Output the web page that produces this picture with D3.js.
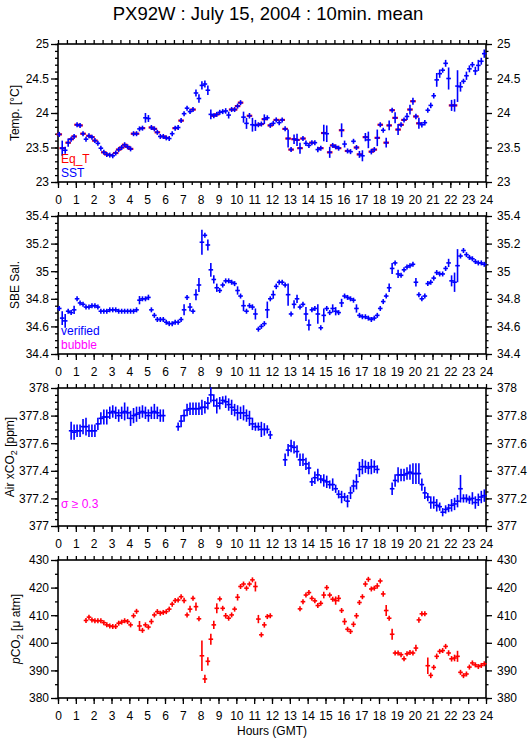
<!DOCTYPE html>
<html>
<head>
<meta charset="utf-8">
<script src="https://cdn.jsdelivr.net/npm/d3@7"></script>
<style>
  body { margin: 0; background: #fff; }
  svg { display: block; font-family: "Liberation Sans", Arial, Helvetica, sans-serif; }
</style>
</head>
<body>
<svg id="chart" width="529" height="739"></svg>
<script>
// 10-minute means, one slot per 10 minutes (144 slots), null = no data
var slotStart = 0.07
var slotStep = 1 / 6

var sstVal = [23.69,23.49,23.46,23.57,23.62,23.66,23.83,23.82,23.70,23.62,
  23.67,23.65,23.60,23.56,23.49,23.43,23.40,23.39,23.38,23.42,
  23.47,23.50,23.54,23.51,23.48,23.70,23.70,23.77,23.78,23.93,
  23.92,23.79,23.77,23.72,23.66,23.66,23.64,23.63,23.70,23.78,
  23.79,23.89,23.99,24.07,24.02,24.05,24.29,24.21,24.40,24.42,
  24.33,23.98,23.96,23.98,24.01,24.02,24.03,23.97,24.05,24.05,
  24.10,24.15,23.94,23.85,23.96,23.83,23.82,23.83,23.84,23.91,
  23.93,23.82,23.85,23.90,23.86,23.90,23.77,23.63,23.47,23.62,
  23.61,23.49,23.63,23.56,23.53,23.57,23.57,23.47,23.49,23.71,
  23.70,23.43,23.53,23.51,23.49,23.75,23.55,23.45,23.44,23.59,
  23.50,23.40,23.38,23.65,23.61,23.44,23.47,23.64,23.83,23.75,
  23.57,23.82,24.04,23.93,23.76,23.83,23.90,23.95,24.05,24.17,
  23.95,23.85,23.83,23.86,24.04,24.11,24.25,24.48,24.57,24.62,
  24.72,24.50,24.11,24.11,24.39,24.38,24.46,24.54,24.64,24.70,
  24.61,24.69,24.75,24.86]
var sstSd = [.02,.11,.05,.06,.02,.03,.02,.02,.02,.02,
  .02,.02,.02,.02,.02,.02,.02,.02,.02,.02,
  .02,.02,.02,.02,.03,.03,.03,.03,.02,.07,
  .05,.02,.02,.02,.03,.02,.02,.03,.02,.02,
  .02,.02,.02,.02,.03,.03,.05,.06,.06,.05,
  .07,.07,.03,.02,.02,.02,.04,.05,.03,.02,
  .02,.02,.08,.08,.04,.10,.08,.02,.03,.07,
  .03,.02,.03,.02,.03,.02,.03,.13,.03,.07,
  .09,.08,.02,.04,.02,.02,.02,.04,.03,.12,
  .12,.08,.03,.02,.03,.10,.05,.02,.02,.02,
  .03,.05,.08,.06,.12,.04,.03,.12,.03,.02,
  .07,.07,.02,.08,.08,.02,.02,.05,.07,.05,
  .04,.08,.04,.04,.02,.04,.04,.10,.06,.03,
  .05,.16,.08,.09,.23,.07,.03,.06,.05,.04,
  .06,.08,.05,.06]
var eqtVal = [23.69,23.49,null,23.57,23.62,23.66,23.83,23.82,23.70,null,
  23.67,23.65,23.60,null,null,23.43,23.40,23.39,null,23.42,
  23.47,23.50,23.54,23.51,23.48,23.70,23.70,null,23.78,null,
  null,23.79,23.77,23.72,null,23.66,23.64,null,null,23.78,
  null,23.89,null,null,null,24.05,null,null,null,null,
  null,null,23.96,23.98,null,null,null,null,24.05,24.05,
  24.10,24.15,null,null,23.96,null,null,23.83,23.84,23.91,
  null,23.82,null,23.90,null,23.90,23.77,23.63,23.47,23.62,
  23.61,23.49,23.63,null,null,23.57,null,null,23.49,23.71,
  null,23.43,23.53,23.51,23.49,23.75,null,23.45,null,null,
  23.50,23.40,null,23.65,null,23.44,23.47,23.64,23.83,null,
  23.57,23.82,24.04,23.93,23.76,23.83,23.90,null,24.05,24.17,
  23.95,23.85,null,null,null,null,null,null,null,null,
  null,null,24.11,24.11,null,null,null,null,null,null,
  null,null,null,null]

var salVal = [34.73,34.66,34.64,34.71,34.70,34.72,34.80,34.77,34.76,34.74,
  34.74,34.75,34.75,34.74,34.71,34.71,34.71,34.72,34.72,34.72,
  34.71,34.71,34.71,34.71,34.71,34.71,34.72,34.79,34.80,34.80,
  34.81,34.72,34.68,34.65,34.65,34.65,34.63,34.62,34.62,34.63,
  34.63,34.65,34.72,34.81,34.74,34.71,34.83,34.90,35.21,35.26,
  35.19,35.01,34.94,34.88,34.86,34.90,34.93,34.93,34.92,34.91,
  34.86,34.82,34.75,34.71,34.75,34.74,34.69,34.58,34.60,34.62,
  34.72,34.80,34.83,34.89,34.92,34.92,34.90,34.83,34.69,34.76,
  34.80,34.74,34.76,34.69,34.61,34.72,34.73,34.69,34.59,34.68,
  34.73,34.70,34.73,34.71,34.70,34.77,34.82,34.81,34.80,34.79,
  34.73,34.68,34.67,34.67,34.66,34.65,34.66,34.68,34.73,34.78,
  34.82,34.88,35.02,35.06,34.98,34.97,35.01,35.03,35.04,35.05,
  34.92,34.83,34.80,34.82,34.91,34.92,34.95,34.99,34.98,34.98,
  35.02,35.06,34.93,34.92,35.04,35.11,35.15,35.12,35.10,35.09,
  35.07,35.06,35.06,35.05]
var salSd = [.01,.05,.05,.01,.01,.03,.01,.01,.01,.01,
  .01,.01,.01,.01,.01,.01,.01,.01,.01,.01,
  .01,.01,.01,.01,.01,.01,.01,.03,.01,.01,
  .02,.01,.01,.01,.01,.01,.01,.01,.01,.01,
  .01,.01,.04,.01,.03,.01,.04,.05,.09,.01,
  .04,.05,.03,.03,.01,.01,.01,.01,.01,.01,
  .03,.01,.04,.01,.01,.02,.04,.01,.01,.01,
  .06,.01,.03,.02,.01,.01,.01,.08,.01,.03,
  .03,.01,.01,.05,.04,.01,.01,.07,.01,.05,
  .01,.01,.03,.03,.01,.03,.01,.01,.01,.01,
  .03,.01,.01,.01,.01,.01,.01,.01,.01,.01,
  .01,.03,.04,.01,.03,.01,.01,.01,.01,.01,
  .03,.01,.01,.01,.01,.01,.01,.01,.01,.01,
  .01,.03,.04,.07,.12,.01,.01,.01,.01,.01,
  .01,.01,.01,.01]

var airVal = [null,null,null,null,377.69,377.68,377.69,377.69,377.72,377.72,
  377.69,377.69,377.69,377.74,377.78,377.79,377.79,377.82,377.83,377.82,
  377.80,377.82,377.83,377.82,377.78,377.80,377.81,377.82,377.83,377.82,
  377.80,377.82,377.83,377.82,377.80,377.80,null,null,null,null,
  377.72,377.76,377.80,377.84,377.85,377.85,377.85,377.85,377.86,377.86,
  377.89,377.95,377.91,377.87,377.89,377.91,377.90,377.88,377.86,377.84,
  377.82,377.82,377.82,377.80,377.78,377.74,377.72,377.72,377.70,377.70,
  377.70,377.66,null,null,null,null,377.48,377.55,377.58,377.57,
  377.54,377.48,377.48,377.45,377.42,377.32,377.35,377.37,377.34,377.33,
  377.32,377.30,377.30,377.27,377.23,377.21,377.21,377.18,377.24,377.29,
  377.32,377.41,377.43,377.43,377.42,377.43,377.43,377.41,null,null,
  null,null,377.27,377.33,377.37,377.37,377.37,377.38,377.39,377.38,
  377.38,377.38,377.30,377.24,377.21,377.17,377.17,377.15,377.14,377.10,
  377.12,377.13,377.15,377.16,377.18,377.27,377.20,377.20,377.19,377.20,
  377.17,377.19,377.21,377.22]
var airSd = [0,0,0,0,.065,.055,.045,.045,.055,.065,
  .045,.045,.045,.045,.045,.055,.055,.045,.045,.045,
  .045,.045,.065,.045,.055,.055,.055,.045,.045,.045,
  .045,.045,.055,.045,.045,.045,0,0,0,0,
  .03,.045,.045,.045,.045,.045,.045,.045,.055,.045,
  .045,.055,.045,.055,.045,.03,.045,.045,.055,.045,
  .055,.045,.055,.045,.055,.045,.03,.03,.055,.045,
  .03,.03,0,0,0,0,.045,.045,.045,.045,
  .045,.045,.045,.045,.045,.03,.045,.045,.03,.045,
  .045,.03,.045,.03,.03,.045,.03,.045,.045,.045,
  .055,.055,.055,.045,.045,.055,.045,.03,0,0,
  0,0,.045,.045,.055,.045,.045,.045,.055,.075,
  .075,.075,.045,.045,.03,.045,.045,.045,.03,.03,
  .03,.03,.045,.045,.045,.1,.03,.03,.03,.045,
  .045,.045,.045,.045]

var pco2Val = [null,null,null,null,null,null,null,null,null,408.1,
  409.3,408.3,408.0,408.0,408.0,407.3,406.5,406.1,405.9,405.9,
  407.1,407.5,408.0,407.7,406.5,409.8,411.4,406.1,404.5,406.5,
  405.7,407.7,410.1,411.3,410.7,411.0,411.3,412.2,414.0,415.3,
  415.5,416.7,415.3,410.1,412.2,416.1,413.1,408.7,395.3,386.9,
  393.3,401.3,406.5,412.5,415.9,412.5,409.8,408.9,410.1,412.2,
  416.5,420.4,421.3,419.8,421.3,422.8,420.4,408.6,402.9,406.5,
  409.5,409.8,null,null,null,null,null,null,null,null,
  null,412.3,414.9,417.3,418.2,416.1,415.2,413.5,414.3,417.3,
  420.0,417.3,415.8,415.3,416.1,411.7,407.7,404.9,404.1,406.7,
  409.8,414.6,416.7,421.3,423.0,419.5,419.8,420.6,422.4,417.7,
  411.7,408.9,403.1,396.3,396.3,395.7,394.2,396.0,396.5,396.3,
  398.1,408.3,410.5,410.5,391.7,388.2,391.1,395.1,396.9,397.2,
  398.7,396.3,394.2,394.5,395.1,389.3,388.1,388.7,391.2,392.7,
  392.0,391.4,391.8,392.4]
var pco2Sd = [0,0,0,0,0,0,0,0,0,.3,
  .4,.4,.3,.3,.3,.5,.4,.3,.3,.3,
  .4,.4,.3,.3,.3,.8,.4,1.8,.5,.4,
  .7,1.0,.4,.4,.3,.3,.4,.4,.4,.4,
  .4,.4,1.0,.5,1.2,.4,1.5,.8,5.5,1.5,
  1.5,2.0,1.5,1.8,.4,.4,1.0,.4,.8,.4,
  1.2,.4,.4,.4,.4,.4,1.8,1.5,.4,1.0,
  .4,.4,0,0,0,0,0,0,0,0,
  0,.8,.4,.4,.4,.4,.4,.4,.4,1.2,
  .4,.4,.4,1.5,1.2,.4,1.2,.4,.4,1.0,
  1.0,.4,.4,1.0,.4,.4,.4,1.0,.4,1.0,
  2.0,.4,2.0,.4,.4,.4,.4,.4,.4,.4,
  1.2,1.0,.4,.8,3.0,1.0,.4,1.0,.4,.4,
  .4,1.0,1.0,1.2,2.0,.4,.4,.4,.4,.4,
  .4,.7,.4,.4]

var hourTicks = d3.range(0, 25, 1)

// panel setup
var left = 58, right = 486
var panelH = 138
var panelGap = 172
var firstTop = 44

var svg = d3.select("#chart")
svg.append("rect").attr("width", 529).attr("height", 739).attr("fill", "#fff")

svg.append("text")
  .attr("x", 268).attr("y", 20)
  .attr("text-anchor", "middle")
  .style("font-size", "18.5px")
  .text("PX92W : July 15, 2004 : 10min. mean")

var x = d3.scaleLinear().domain([0, 24]).range([left, right])

function slotHour(i) { return slotStart + i * slotStep }

function toPoints(vals, sds) {
  var pts = []
  vals.forEach(function(v, i) {
    if (v !== null) pts.push({ h: slotHour(i), v: v, sd: sds ? sds[i] : 0 })
  })
  return pts
}

var panels = [
  { domain: [23, 25], major: 0.5, minor: 0.1 },
  { domain: [34.4, 35.4], major: 0.2, minor: 0.05 },
  { domain: [377, 378], major: 0.2, minor: 0.05 },
  { domain: [380, 430], major: 10, minor: 5 }
]

function drawPanel(k, cfg) {
  var top = firstTop + k * panelGap
  var bottom = top + panelH
  var g = svg.append("g")
  var y = d3.scaleLinear().domain(cfg.domain).range([bottom, top])
  var fmt = d3.format(".1~f")
  var eps = 1e-6
  var majors = d3.range(cfg.domain[0], cfg.domain[1] + eps, cfg.major).map(function(d) { return +d.toFixed(3) })
  var minors = d3.range(cfg.domain[0], cfg.domain[1] + eps, cfg.minor).map(function(d) { return +d.toFixed(3) })
  var halfHours = d3.range(0, 24.01, 0.5)

  // top ticks, no labels
  g.append("g").attr("transform", "translate(0," + top + ")")
    .call(d3.axisTop(x).tickValues(halfHours).tickSize(4).tickFormat(""))
  // bottom minor + labelled major
  g.append("g").attr("transform", "translate(0," + bottom + ")")
    .call(d3.axisBottom(x).tickValues(halfHours).tickSize(3).tickFormat(""))
  g.append("g").attr("class", "lab").attr("transform", "translate(0," + bottom + ")")
    .call(d3.axisBottom(x).tickValues(hourTicks).tickSize(6).tickPadding(7).tickFormat(d3.format("d")))

  // y axes
  g.append("g").attr("transform", "translate(" + left + ",0)")
    .call(d3.axisLeft(y).tickValues(minors).tickSize(3).tickFormat(""))
  g.append("g").attr("class", "lab").attr("transform", "translate(" + left + ",0)")
    .call(d3.axisLeft(y).tickValues(majors).tickSize(7).tickPadding(2).tickFormat(fmt))
  g.append("g").attr("transform", "translate(" + right + ",0)")
    .call(d3.axisRight(y).tickValues(minors).tickSize(2.5).tickFormat(""))
  g.append("g").attr("class", "lab").attr("transform", "translate(" + right + ",0)")
    .call(d3.axisRight(y).tickValues(majors).tickSize(6).tickPadding(5).tickFormat(fmt))

  g.selectAll(".domain").remove()
  g.selectAll(".tick line").attr("stroke", "#000").attr("stroke-width", 1.3)
  g.selectAll(".lab text").style("font-size", "12px").attr("fill", "#000")

  g.append("rect")
    .attr("x", left).attr("y", top)
    .attr("width", right - left).attr("height", panelH)
    .attr("fill", "none").attr("stroke", "#000").attr("stroke-width", 1.6)

  return { g: g, y: y, top: top, bottom: bottom }
}

// a "+" mark: horizontal = 10 min bar, vertical = +/- one std dev
function drawCrosses(p, pts, color) {
  var m = p.g.append("g").attr("stroke", color).attr("stroke-width", 1.6)
  var sel = m.selectAll("g").data(pts).enter().append("g")
  sel.append("line")
    .attr("x1", function(d) { return x(d.h) - 2.3 })
    .attr("x2", function(d) { return x(d.h) + 2.3 })
    .attr("y1", function(d) { return p.y(d.v) })
    .attr("y2", function(d) { return p.y(d.v) })
  sel.append("line")
    .attr("x1", function(d) { return x(d.h) })
    .attr("x2", function(d) { return x(d.h) })
    .attr("y1", function(d) { return Math.min(p.y(d.v + d.sd), p.y(d.v) - 2.5) })
    .attr("y2", function(d) { return Math.max(p.y(d.v - d.sd), p.y(d.v) + 2.5) })
}

function drawDashes(p, pts, color) {
  p.g.append("g").attr("stroke", color).attr("stroke-width", 2.2)
    .selectAll("line").data(pts).enter().append("line")
    .attr("x1", function(d) { return x(d.h) - 2.8 })
    .attr("x2", function(d) { return x(d.h) + 2.8 })
    .attr("y1", function(d) { return p.y(d.v) })
    .attr("y2", function(d) { return p.y(d.v) })
}

function yTitle(p, cx, build) {
  var t = svg.append("text")
    .attr("transform", "translate(" + cx + "," + (p.top + p.bottom) / 2 + ") rotate(-90)")
    .attr("text-anchor", "middle")
    .style("font-size", "12px")
  build(t)
}

function legend(yPos, label, color) {
  svg.append("text").attr("x", 61).attr("y", yPos)
    .attr("fill", color).style("font-size", "12px").text(label)
}

// Panel 1: temperature
var p1 = drawPanel(0, panels[0])
drawDashes(p1, toPoints(eqtVal), "#ff0000")
drawCrosses(p1, toPoints(sstVal, sstSd), "#0000ff")
yTitle(p1, 19, function(t) { t.text("Temp. [°C]") })
legend(163, "Eq_T", "#ff0000")
legend(177, "SST", "#0000ff")

// Panel 2: salinity
var p2 = drawPanel(1, panels[1])
drawCrosses(p2, toPoints(salVal, salSd), "#0000ff")
yTitle(p2, 19, function(t) { t.text("SBE Sal.") })
legend(335, "verified", "#0000ff")
legend(349, "bubble", "#ff00ff")

// Panel 3: air xCO2
var p3 = drawPanel(2, panels[2])
drawCrosses(p3, toPoints(airVal, airSd), "#0000ff")
yTitle(p3, 14, function(t) {
  t.append("tspan").text("Air xCO")
  t.append("tspan").attr("dy", 3).style("font-size", "9px").text("2")
  t.append("tspan").attr("dy", -3).text(" [ppm]")
})
legend(508, "σ ≥ 0.3", "#ff00ff")

// Panel 4: pCO2
var p4 = drawPanel(3, panels[3])
drawCrosses(p4, toPoints(pco2Val, pco2Sd), "#ff0000")
yTitle(p4, 20, function(t) {
  t.append("tspan").style("font-style", "italic").text("p")
  t.append("tspan").text("CO")
  t.append("tspan").attr("dy", 3).style("font-size", "9px").text("2")
  t.append("tspan").attr("dy", -3).text(" [μ atm]")
})

svg.append("text")
  .attr("x", (left + right) / 2).attr("y", 735)
  .attr("text-anchor", "middle")
  .style("font-size", "12px")
  .text("Hours (GMT)")
</script>
</body>
</html>
